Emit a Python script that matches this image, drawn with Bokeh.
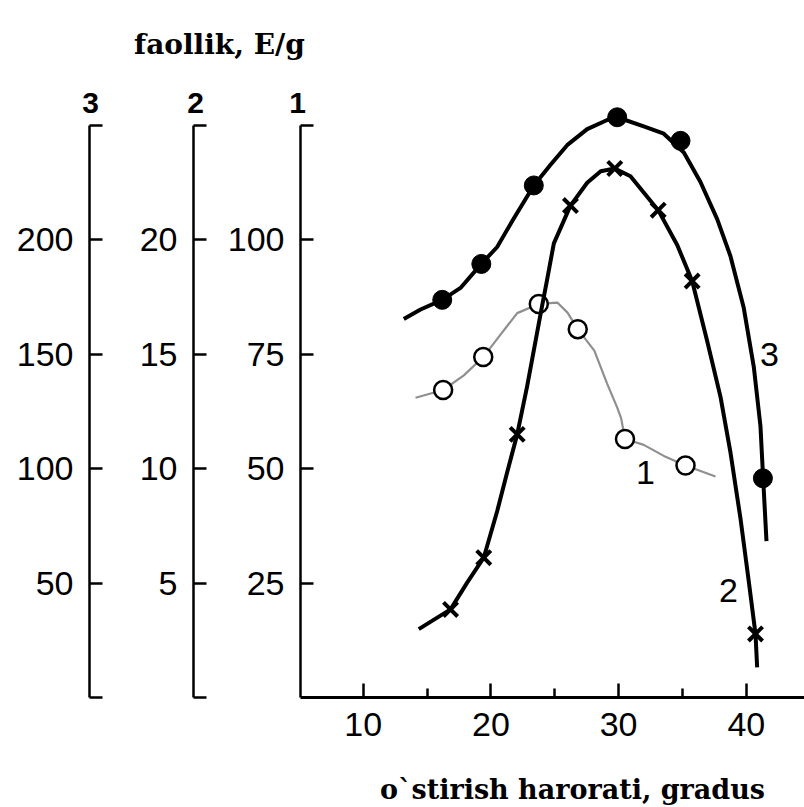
from bokeh.plotting import figure
from bokeh.models import Range1d, LinearAxis, FixedTicker, Label
from bokeh.embed import file_html
from bokeh.resources import INLINE

# ---------------- data ----------------
x_ticks = [10, 20, 30, 40]
x_minor = [15, 25, 35]

ticks_1 = [25, 50, 75, 100, 125]
ticks_2 = [0, 5, 10, 15, 20, 25]
ticks_3 = [0, 50, 100, 150, 200, 250]
scale_names = ["3", "2", "1"]

# curve 1 (open circles, grey line) - scale 1
temp_1 = [16.26, 19.4, 23.75, 26.8, 30.5, 35.24]
act_1 = [67.2, 74.4, 86.0, 80.5, 56.5, 50.7]
line1_x = [14.10, 16.26, 17.88, 19.40, 20.75, 22.06, 23.75, 25.2, 26.0, 26.8, 28.1, 29.1,
           29.9, 30.2, 30.5, 31.97, 33.54, 35.24, 37.59]
line1_y = [65.5, 67.2, 70.4, 74.4, 79.3, 84.0, 86.0, 86.3, 84.1, 80.5, 75.8, 68.6,
           63.3, 61.0, 56.5, 55.2, 52.8, 50.7, 48.3]

# curve 2 (crosses) - scale 2
temp_2 = [16.84, 19.44, 22.06, 26.23, 29.7, 33.1, 35.76, 40.72]
act_2 = [3.85, 6.11, 11.5, 21.5, 23.12, 21.3, 18.2, 2.78]
line2_x = [14.35, 16.84, 18.14, 19.44, 20.49, 21.28, 22.06, 22.84, 23.36, 23.88, 24.41, 24.93,
           26.23, 27.54, 28.6, 29.7, 30.93, 33.1, 34.59, 35.76, 36.94, 37.98, 38.76, 39.55,
           40.20, 40.72, 40.85]
line2_y = [2.99, 3.85, 5.02, 6.11, 8.14, 9.86, 11.5, 13.61, 15.17, 16.73, 18.29, 19.85,
           21.5, 22.5, 23.0, 23.12, 22.78, 21.3, 19.78, 18.2, 15.57, 13.14, 10.71, 7.80,
           5.05, 2.78, 1.32]

# curve 3 (filled circles) - scale 3
temp_3 = [16.19, 19.25, 23.36, 29.89, 34.85, 41.3]
act_3 = [173.8, 189.5, 223.8, 253.6, 243.3, 95.8]
line3_x = [13.18, 14.49, 16.19, 17.62, 19.25, 20.49, 21.79, 23.36, 24.67, 25.97, 27.54, 29.11,
           29.89, 31.97, 33.54, 35.11, 36.41, 37.72, 38.76, 39.80, 40.59, 41.11, 41.32, 41.58]
line3_y = [165.4, 169.6, 173.8, 179.0, 189.5, 196.9, 209.4, 223.8, 232.8, 241.4, 248.4, 252.4,
           253.6, 249.6, 246.4, 238.2, 225.3, 209.1, 192.9, 170.3, 144.4, 118.5, 95.8, 68.3]

curve_labels = ["3", "2", "1"]

# ---------------- layout (pixels of the canvas) ----------------
W, H = 804, 807
px10, px40 = 362.7, 745.8        # where x = 10 and x = 40 sit
py0, py_top = 697.0, 125.0       # where scale value 0 and scale top sit
ppx = (px40 - px10) / 30.0

def x_of(px):
    return 10 + (px - px10) / ppx

def y_lim(top_value):
    per = (py0 - py_top) / top_value
    return Range1d(-(H - py0) / per, py0 / per)

p = figure(width=W, height=H, output_backend="svg", toolbar_location=None,
           x_range=Range1d(x_of(0), x_of(W)), y_range=y_lim(125),
           x_axis_location=None, y_axis_location=None,
           min_border=0, min_border_left=0, min_border_right=0,
           min_border_top=0, min_border_bottom=0)
p.extra_y_ranges = {"r2": y_lim(25), "r3": y_lim(250)}
p.outline_line_color = None
p.xgrid.visible = False
p.ygrid.visible = False
p.background_fill_color = "white"
p.border_fill_color = "white"

TICK_FONT = "Liberation Sans"
TICK_SIZE = "34px"

def style_common(ax):
    ax.axis_line_color = "black"
    ax.major_tick_line_color = "black"
    ax.minor_tick_line_color = "black"
    ax.major_label_text_font = TICK_FONT
    ax.major_label_text_font_size = TICK_SIZE
    ax.major_label_text_color = "black"
    ax.major_tick_out = 0
    ax.minor_tick_out = 0

def add_y(ticks, hidden, range_name, px):
    kw = {} if range_name is None else {"y_range_name": range_name}
    ax = LinearAxis(fixed_location=x_of(px), **kw)
    ax.ticker = FixedTicker(ticks=ticks, minor_ticks=[])
    ax.bounds = (0, ticks[-1])
    ax.major_label_overrides = {t: "" for t in hidden}
    style_common(ax)
    ax.axis_line_width = 2.5
    ax.major_tick_line_width = 2.5
    ax.major_tick_in = 13
    ax.minor_tick_in = 0
    ax.major_label_standoff = 16
    p.add_layout(ax, "left")

add_y(ticks_1, [125], None, 300)
add_y(ticks_2, [0, 25], "r2", 193)
add_y(ticks_3, [0, 250], "r3", 89)

xa = LinearAxis(fixed_location=0)
xa.ticker = FixedTicker(ticks=x_ticks, minor_ticks=x_minor)
xa.bounds = (x_of(300), x_of(W))
style_common(xa)
xa.axis_line_width = 3
xa.major_tick_line_width = 2.5
xa.minor_tick_line_width = 2.5
xa.major_tick_in = 14
xa.minor_tick_in = 9
xa.major_label_standoff = 15
p.add_layout(xa, "below")

# curves
p.line(line1_x, line1_y, line_color="#8f8f8f", line_width=2.2, line_join="round")
p.scatter(temp_1, act_1, marker="circle", size=18, fill_color="white",
          line_color="black", line_width=2.5)

p.line(line2_x, line2_y, y_range_name="r2", line_color="black", line_width=4, line_join="round")
p.scatter(temp_2, act_2, y_range_name="r2", marker="x", size=20, line_color="black", line_width=4)

p.line(line3_x, line3_y, y_range_name="r3", line_color="black", line_width=4, line_join="round")
p.scatter(temp_3, act_3, y_range_name="r3", marker="circle", size=19, fill_color="black",
          line_color="black")

# curve labels (data coords of scale 1)
for txt, xx, yy in zip(curve_labels, [41.82, 38.6, 32.1], [75.0, 23.4, 49.2]):
    p.add_layout(Label(x=xx, y=yy, text=txt, text_font=TICK_FONT, text_font_size=TICK_SIZE,
                       text_align="center", text_baseline="middle", text_color="black"))

# scale names above the axes (canvas coords)
for txt, cx in zip(scale_names, [90, 195, 297]):
    p.add_layout(Label(x=cx, y=102, x_units="canvas", y_units="canvas", text=txt,
                       text_font=TICK_FONT, text_font_size="30px", text_font_style="bold",
                       text_align="center", text_baseline="middle", text_color="black"))

p.add_layout(Label(x=219, y=44, x_units="canvas", y_units="canvas", text="faollik, E/g",
                   text_font="DejaVu Serif", text_font_size="28px", text_font_style="bold",
                   text_align="center", text_baseline="alphabetic", text_color="black"))
p.add_layout(Label(x=572, y=789, x_units="canvas", y_units="canvas",
                   text="o`stirish harorati, gradus",
                   text_font="DejaVu Serif", text_font_size="27px", text_font_style="bold",
                   text_align="center", text_baseline="alphabetic", text_color="black"))

open("out.html", "w").write(file_html(p, INLINE))
